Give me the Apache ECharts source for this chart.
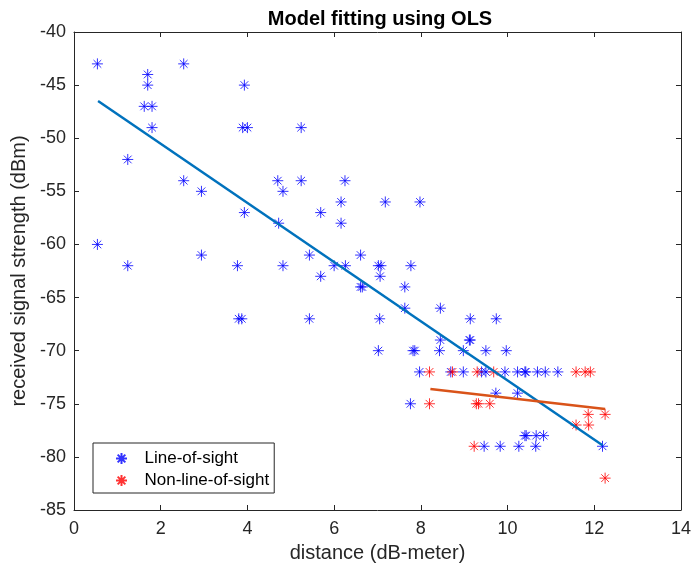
<!DOCTYPE html>
<html>
<head>
<meta charset="utf-8">
<script src="https://cdn.jsdelivr.net/npm/echarts@6/dist/echarts.min.js"></script>
<style>html,body{margin:0;padding:0;background:#fff;}#c{width:694px;height:576px;}</style>
</head>
<body>
<div id="c"></div>
<script>
// Line-of-sight measurements [distance, rss]
const losX = [0.54,2.53,1.7,1.7,3.93,1.62,1.8,1.8,3.89,4.0,5.24,1.24,2.53,4.70,5.24,6.25,2.94,4.82,6.16,7.18,7.98,3.93,5.69,4.72,6.16,0.54,2.94,5.43,6.61,1.24,3.77,4.82,6.0,6.26,7.02,7.08,7.77,5.69,7.06,6.61,6.65,7.63,7.63,8.45,3.8,3.87,5.43,7.05,9.14,9.74,8.45,9.12,9.14,7.02,7.82,7.86,8.43,8.98,9.50,9.97,
  7.97,8.69,8.98,9.40,9.50,9.94,10.23,10.40,10.42,10.69,10.87,11.16,
  9.73,10.23,7.76,10.40,10.43,10.66,10.83,9.46,9.83,10.26,10.65,12.19];
const losY = [-43,-43,-44,-45,-45,-47,-47,-49,-49,-49,-49,-52,-54,-54,-54,-54,-55,-55,-56,-56,-56,-57,-57,-58,-58,-60,-61,-61,-61,-62,-62,-62,-62,-62,-62,-62,-62,-63,-63,-64,-64,-64,-66,-66,-67,-67,-67,-67,-67,-67,-69,-69,-69,-70,-70,-70,-70,-70,-70,-70,
  -72,-72,-72,-72,-72,-72,-72,-72,-72,-72,-72,-72,
  -74,-74,-75,-78,-78,-78,-78,-79,-79,-79,-79,-79];
// Non-line-of-sight measurements
const nlosX = [8.20,8.73,9.30,9.68,11.58,11.79,11.91,8.20,9.28,9.33,9.59,11.86,12.25,11.58,11.87,9.23,12.25];
const nlosY = [-72,-72,-72,-72,-72,-72,-72,-75,-75,-75,-75,-76,-76,-77,-77,-79,-82];
// OLS fit line end points
const losFitX = [0.555, 12.19];
const losFitY = [-46.5, -78.9];
const nlosFitX = [8.22, 12.25];
const nlosFitY = [-73.6, -75.5];
// Axis ticks
const xTicks = [0,2,4,6,8,10,12,14];
const yTicks = [-85,-80,-75,-70,-65,-60,-55,-50,-45,-40];

const zip = (a,b) => a.map((v,i)=>[v,b[i]]);
const star = 'path://M10,0L10,20M0,10L20,10M3,3L17,17M3,17L17,3';
const font = 'Liberation Sans, Arial, Helvetica, sans-serif';
const ax = '#262626';

const chart = echarts.init(document.getElementById('c'), null, {renderer:'canvas'});
const baseX = {
  type:'value', min:xTicks[0], max:xTicks[xTicks.length-1], interval:xTicks[1]-xTicks[0],
  axisLine:{show:true,onZero:false,lineStyle:{color:ax,width:1}},
  axisTick:{show:true,inside:true,length:5,lineStyle:{color:ax}},
  splitLine:{show:false}
};
const baseY = {
  type:'value', min:yTicks[0], max:yTicks[yTicks.length-1], interval:yTicks[1]-yTicks[0],
  axisLine:{show:true,onZero:false,lineStyle:{color:ax,width:1}},
  axisTick:{show:true,inside:true,length:5,lineStyle:{color:ax}},
  splitLine:{show:false}
};
chart.setOption({
  animation:false,
  backgroundColor:'#fff',
  title:{text:'Model fitting using OLS',left:375,top:4,textAlign:'center',
    textStyle:{fontFamily:font,fontSize:20,fontWeight:'bold',color:'#000'}},
  grid:{left:74,right:10,top:32,bottom:66,containLabel:false},
  legend:{
    data:['Line-of-sight','Non-line-of-sight'],
    orient:'vertical', left:93, top:443,
    itemWidth:36, itemHeight:11, itemGap:5,
    padding:[7,5,4,22],
    borderColor:ax, borderWidth:1, backgroundColor:'#fff',
    textStyle:{fontFamily:font,fontSize:17,color:'#000'}
  },
  xAxis:[
    Object.assign({},baseX,{position:'bottom',name:'distance (dB-meter)',nameLocation:'middle',nameGap:33,
      nameTextStyle:{fontFamily:font,fontSize:20,color:ax},
      axisLabel:{show:true,margin:10,fontFamily:font,fontSize:18,color:ax}}),
    Object.assign({},baseX,{position:'top',axisLabel:{show:false}})
  ],
  yAxis:[
    Object.assign({},baseY,{position:'left',name:'received signal strength (dBm)',nameLocation:'middle',nameGap:45,
      nameTextStyle:{fontFamily:font,fontSize:20,color:ax},
      axisLabel:{show:true,margin:8,fontFamily:font,fontSize:18,color:ax}}),
    Object.assign({},baseY,{position:'right',axisLabel:{show:false}})
  ],
  series:[
    {name:'Line-of-sight',type:'scatter',data:zip(losX,losY),symbol:star,symbolSize:11,
      itemStyle:{color:'#0000ff',borderColor:'#0000ff',borderWidth:1},z:2},
    {name:'Non-line-of-sight',type:'scatter',data:zip(nlosX,nlosY),symbol:star,symbolSize:11,
      itemStyle:{color:'#ff0000',borderColor:'#ff0000',borderWidth:1},z:2},
    {name:'LOS fit',type:'line',data:zip(losFitX,losFitY),showSymbol:false,symbol:'none',
      lineStyle:{color:'#0072BD',width:2.5},z:3},
    {name:'NLOS fit',type:'line',data:zip(nlosFitX,nlosFitY),showSymbol:false,symbol:'none',
      lineStyle:{color:'#D95319',width:2.5},z:3}
  ]
});
</script>
</body>
</html>
